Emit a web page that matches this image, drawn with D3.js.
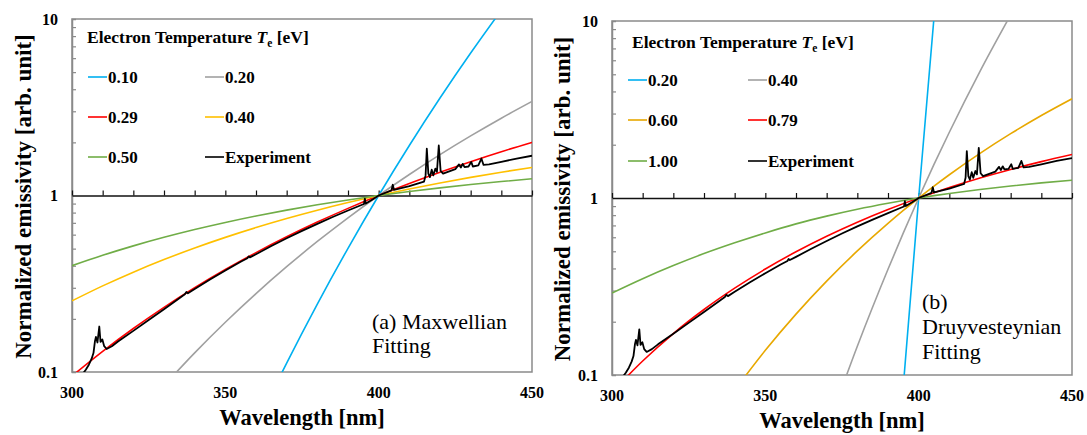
<!DOCTYPE html>
<html>
<head>
<meta charset="utf-8">
<script src="https://cdn.jsdelivr.net/npm/d3@7"></script>
<style>
  body { margin: 0; background: #fff; }
</style>
</head>
<body>
<script>
// wavelength grids [nm]
const wlA = [300, 310, 320, 330, 340, 350, 360, 370, 380, 390, 400, 410, 420, 430, 440, 450];
const wlB = [300, 310, 320, 330, 340, 350, 360, 370, 380, 390, 395, 400, 405, 410, 420, 430, 440, 450];

// (a) Maxwellian fits, normalized at 400 nm
const maxLabels = ["0.10", "0.20", "0.29", "0.40", "0.50"];
const max010 = [null, null, null, null, null, null, 0.0497, 0.1124, 0.2428, 0.5022, 1, 1.920, 3.565, 6.413, 11.22, null];
const max020 = [null, null, null, 0.0838, 0.1284, 0.1914, 0.2782, 0.3949, 0.5488, 0.7474, 1, 1.3156, 1.7042, 2.1757, 2.7420, 3.4120];
const max029 = [0.0949, 0.1310, 0.1764, 0.2324, 0.3001, 0.3806, 0.4747, 0.5832, 0.7068, 0.8455, 1, 1.1700, 1.3554, 1.5555, 1.7707, 1.9995];
const max040 = [0.2529, 0.3075, 0.3679, 0.4335, 0.5041, 0.5791, 0.6580, 0.7402, 0.8250, 0.9117, 1, 1.0890, 1.1783, 1.2672, 1.3556, 1.4424];
const max050 = [0.4002, 0.4583, 0.5183, 0.5795, 0.6415, 0.7036, 0.7654, 0.8263, 0.8860, 0.9439, 1, 1.0538, 1.1052, 1.1538, 1.2001, 1.2432];

// (b) Druyvesteyn fits, normalized at 400 nm
const druLabels = ["0.20", "0.40", "0.60", "0.79", "1.00"];
const dru020 = [null, null, null, null, null, null, null, null, null, null, 0.0871, 1, 10.48, null, null, null, null, null];
const dru040 = [null, null, null, null, null, null, null, 0.0488, 0.1454, 0.3959, 0.6350, 1, 1.5473, 2.353, 5.197, 10.83, null, null];
const dru060 = [null, null, null, null, 0.0821, 0.1378, 0.2208, 0.3391, 0.5024, 0.7191, 0.8510, 1, 1.1672, 1.3532, 1.7873, 2.3090, 2.9251, 3.638];
const dru079 = [0.0800, 0.1200, 0.1715, 0.2345, 0.3095, 0.3970, 0.4969, 0.6080, 0.7299, 0.8607, 0.9294, 1, 1.0721, 1.1455, 1.2959, 1.4493, 1.6048, 1.7604];
const dru100 = [0.2905, 0.3500, 0.4150, 0.4850, 0.5580, 0.6350, 0.7140, 0.7900, 0.8640, 0.9340, 0.9680, 1, 1.0310, 1.0608, 1.1173, 1.1693, 1.2168, 1.2596];

// measured spectrum, normalized at 400 nm
const expX = [303, 304.5, 305.5, 306.4, 307, 307.5, 307.8, 308.3, 308.9, 309.3, 309.9, 310.5, 311.3, 313, 315,
  320, 325, 330, 335, 336.8, 337.3, 337.8, 340, 345, 350, 355, 357.2, 357.6, 358, 360, 365, 370, 375, 380, 385,
  390, 394, 395.2, 395.5, 395.8, 398, 400, 404.2, 404.6, 405, 410, 414.8, 415.3, 415.7, 416.2, 416.7, 417.3,
  417.8, 418.5, 419, 419.6, 420.2, 421, 423, 425, 426.2, 426.8, 427.4, 428, 429.3, 430.2, 430.7, 432.5, 433.5,
  434.2, 436, 440, 445, 450];
const expY = [0.095, 0.103, 0.110, 0.119, 0.128, 0.150, 0.158, 0.147, 0.181, 0.148, 0.153, 0.140, 0.135, 0.140, 0.149,
  0.171, 0.197, 0.227, 0.262, 0.276, 0.284, 0.279, 0.295, 0.334, 0.376, 0.421, 0.441, 0.452, 0.446, 0.465, 0.517, 0.572, 0.630, 0.691, 0.755,
  0.822, 0.878, 0.895, 0.96, 0.90, 0.95, 1.0, 1.07, 1.15, 1.075, 1.13, 1.20, 1.30, 1.84, 1.33, 1.27, 1.40,
  1.30, 1.42, 1.36, 1.92, 1.38, 1.33, 1.37, 1.41, 1.50, 1.44, 1.51, 1.45, 1.46, 1.55, 1.46, 1.48, 1.62,
  1.49, 1.50, 1.55, 1.62, 1.68];

const xTicks = [300, 350, 400, 450];
const yTicks = [0.1, 1, 10];

const panels = [
  {
    left: 72, top: 19, width: 460, height: 353,
    wl: wlA,
    series: [
      { label: maxLabels[0], values: max010, color: "#00b0f0" },
      { label: maxLabels[1], values: max020, color: "#a0a0a0" },
      { label: maxLabels[2], values: max029, color: "#ff0000" },
      { label: maxLabels[3], values: max040, color: "#ffc000" },
      { label: maxLabels[4], values: max050, color: "#70ad47" }
    ],
    legend: { x: 87, titleY: 43, rows: [77, 117, 157], cols: [88, 205] },
    note: { x: 372, lines: ["(a) Maxwellian", "Fitting"], y0: 329, dy: 24 },
    yTitleX: 23
  },
  {
    left: 612, top: 21, width: 460, height: 354,
    wl: wlB,
    series: [
      { label: druLabels[0], values: dru020, color: "#00b0f0" },
      { label: druLabels[1], values: dru040, color: "#a0a0a0" },
      { label: druLabels[2], values: dru060, color: "#e8a800" },
      { label: druLabels[3], values: dru079, color: "#ff0000" },
      { label: druLabels[4], values: dru100, color: "#70ad47" }
    ],
    legend: { x: 632, titleY: 48, rows: [80, 120, 161], cols: [628, 748] },
    note: { x: 922, lines: ["(b)", "Druyvesteynian", "Fitting"], y0: 309, dy: 25 },
    yTitleX: 562
  }
];

const svg = d3.select("body").append("svg")
  .attr("width", 1087)
  .attr("height", 435)
  .attr("font-family", "'Liberation Serif', serif")
  .style("background", "#fff");

panels.forEach((p, pi) => {
  const x = d3.scaleLinear().domain([300, 450]).range([p.left, p.left + p.width]);
  const y = d3.scaleLog().domain([0.1, 10]).range([p.top + p.height, p.top]);

  const clipId = "clip" + pi;
  svg.append("clipPath").attr("id", clipId)
    .append("rect")
    .attr("x", p.left).attr("y", p.top)
    .attr("width", p.width).attr("height", p.height);

  // frame
  svg.append("rect")
    .attr("x", p.left).attr("y", p.top)
    .attr("width", p.width).attr("height", p.height)
    .attr("fill", "none")
    .attr("stroke", "#8a8a8a")
    .attr("stroke-width", 1.5);

  // minor ticks on the log axis
  const minor = [];
  [0.1, 1].forEach(d => { for (let k = 2; k <= 9; k++) minor.push(d * k); });
  const yAxis = svg.append("g")
    .attr("transform", `translate(${p.left},0)`)
    .call(d3.axisRight(y).tickValues(minor).tickSize(4).tickFormat(""));
  yAxis.select(".domain").attr("stroke", "#8a8a8a").attr("stroke-width", 1.5);
  yAxis.selectAll(".tick line").attr("stroke", "#8a8a8a").attr("stroke-width", 1.2);

  // y tick labels
  svg.append("g").selectAll("text")
    .data(yTicks).join("text")
    .attr("x", p.left - 14)
    .attr("y", d => y(d))
    .attr("dy", "0.35em")
    .attr("text-anchor", "end")
    .attr("font-size", 16)
    .attr("font-weight", "bold")
    .text(d => d3.format("~g")(d));

  // horizontal axis crossing at 1
  const xAxis = svg.append("g")
    .attr("transform", `translate(0,${y(1)})`)
    .call(d3.axisTop(x).tickValues(d3.range(300, 451, 10)).tickSize(5).tickSizeOuter(0).tickFormat(""));
  xAxis.select(".domain").attr("stroke", "#111").attr("stroke-width", 1.5);
  xAxis.selectAll(".tick line").attr("stroke", "#111").attr("stroke-width", 1.2);

  // x tick labels at the bottom
  svg.append("g").selectAll("text")
    .data(xTicks).join("text")
    .attr("x", d => x(d))
    .attr("y", p.top + p.height + 26)
    .attr("text-anchor", "middle")
    .attr("font-size", 16)
    .attr("font-weight", "bold")
    .text(d => d);

  // axis titles
  svg.append("text")
    .attr("x", p.left + p.width / 2)
    .attr("y", p.top + p.height + 53)
    .attr("text-anchor", "middle")
    .attr("font-size", 22.5)
    .attr("font-weight", "bold")
    .text("Wavelength [nm]");
  svg.append("text")
    .attr("transform", `translate(${p.yTitleX},${p.top + p.height / 2 + 1}) rotate(-90)`)
    .attr("text-anchor", "middle")
    .attr("dy", "0.35em")
    .attr("font-size", 23)
    .attr("font-weight", "bold")
    .text("Normalized emissivity [arb. unit]");

  // curves
  const plot = svg.append("g").attr("clip-path", `url(#${clipId})`);
  const line = d3.line()
    .defined(d => d[1] != null)
    .x(d => x(d[0]))
    .y(d => y(d[1]))
    .curve(d3.curveMonotoneX);

  p.series.forEach(s => {
    plot.append("path")
      .datum(d3.zip(p.wl, s.values))
      .attr("fill", "none")
      .attr("stroke", s.color)
      .attr("stroke-width", 1.6)
      .attr("d", line);
  });

  plot.append("path")
    .datum(d3.zip(expX, expY))
    .attr("fill", "none")
    .attr("stroke", "#000")
    .attr("stroke-width", 1.8)
    .attr("stroke-linejoin", "round")
    .attr("d", d3.line().x(d => x(d[0])).y(d => y(d[1])));

  // legend
  const lg = svg.append("g");
  const title = lg.append("text")
    .attr("x", p.legend.x)
    .attr("y", p.legend.titleY)
    .attr("font-size", 17.5)
    .attr("font-weight", "bold");
  title.append("tspan").text("Electron Temperature ");
  title.append("tspan").attr("font-style", "italic").text("T");
  title.append("tspan").attr("font-size", 11.5).attr("dy", 4).text("e");
  title.append("tspan").attr("dy", -4).text(" [eV]");

  const items = p.series.map(s => ({ label: s.label, color: s.color }))
    .concat([{ label: "Experiment", color: "#000" }]);
  items.forEach((it, i) => {
    const lx = p.legend.cols[i % 2];
    const ly = p.legend.rows[Math.floor(i / 2)];
    lg.append("line")
      .attr("x1", lx).attr("x2", lx + 19)
      .attr("y1", ly).attr("y2", ly)
      .attr("stroke", it.color)
      .attr("stroke-width", 1.6);
    lg.append("text")
      .attr("x", lx + 20)
      .attr("y", ly + 6)
      .attr("font-size", 17)
      .attr("font-weight", "bold")
      .text(it.label);
  });

  // panel note
  svg.append("g").selectAll("text")
    .data(p.note.lines).join("text")
    .attr("x", p.note.x)
    .attr("y", (d, i) => p.note.y0 + i * p.note.dy)
    .attr("font-size", 22)
    .text(d => d);
});
</script>
</body>
</html>
